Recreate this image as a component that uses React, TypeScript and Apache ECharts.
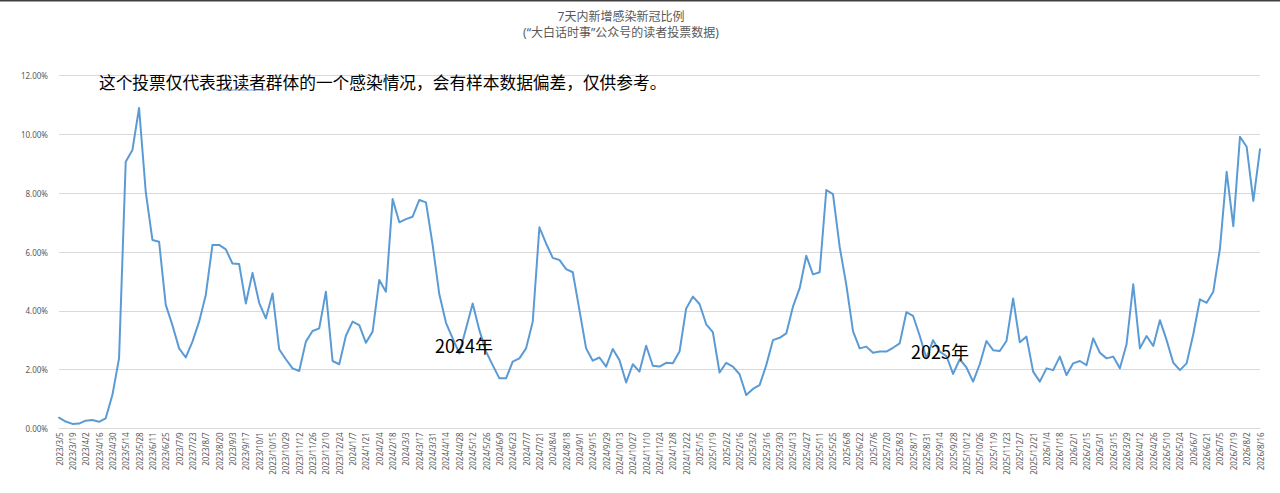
import React, { useEffect, useRef } from "react";
import * as echarts from "echarts";

// Categories (weekly survey dates)
const dates2023 = "2023/3/5 2023/3/12 2023/3/19 2023/3/26 2023/4/2 2023/4/9 2023/4/16 2023/4/23 2023/4/30 2023/5/7 2023/5/14 2023/5/21 2023/5/28 2023/6/4 2023/6/11 2023/6/18 2023/6/25 2023/7/2 2023/7/9 2023/7/16 2023/7/23 2023/7/30 2023/8/7 2023/8/13 2023/8/20 2023/8/27 2023/9/3 2023/9/10 2023/9/17 2023/9/24 2023/10/1 2023/10/8 2023/10/15 2023/10/22 2023/10/29 2023/11/5 2023/11/12 2023/11/19 2023/11/26 2023/12/3 2023/12/10 2023/12/17 2023/12/24 2023/12/31".split(" ");
const dates2024 = "2024/1/7 2024/1/14 2024/1/21 2024/1/28 2024/2/4 2024/2/11 2024/2/18 2024/2/25 2024/3/3 2024/3/10 2024/3/17 2024/3/24 2024/3/31 2024/4/7 2024/4/14 2024/4/21 2024/4/28 2024/5/5 2024/5/12 2024/5/19 2024/5/26 2024/6/2 2024/6/9 2024/6/16 2024/6/23 2024/6/30 2024/7/7 2024/7/14 2024/7/21 2024/7/28 2024/8/4 2024/8/11 2024/8/18 2024/8/25 2024/9/1 2024/9/8 2024/9/15 2024/9/22 2024/9/29 2024/10/6 2024/10/13 2024/10/20 2024/10/27 2024/11/3 2024/11/10 2024/11/17 2024/11/24 2024/12/1 2024/12/8 2024/12/15 2024/12/22 2024/12/29".split(" ");
const dates2025 = "2025/1/5 2025/1/12 2025/1/19 2025/1/26 2025/2/2 2025/2/9 2025/2/16 2025/2/23 2025/3/2 2025/3/9 2025/3/16 2025/3/23 2025/3/30 2025/4/6 2025/4/13 2025/4/20 2025/4/27 2025/5/4 2025/5/11 2025/5/18 2025/5/25 2025/6/1 2025/6/8 2025/6/15 2025/6/22 2025/6/29 2025/7/6 2025/7/13 2025/7/20 2025/7/27 2025/8/3 2025/8/10 2025/8/17 2025/8/24 2025/8/31 2025/9/7 2025/9/14 2025/9/21 2025/9/28 2025/10/5 2025/10/12 2025/10/19 2025/10/26 2025/11/2 2025/11/9 2025/11/16 2025/11/23 2025/11/30 2025/12/7 2025/12/14 2025/12/21 2025/12/28".split(" ");
const dates2026 = "2026/1/4 2026/1/11 2026/1/18 2026/1/25 2026/2/1 2026/2/8 2026/2/15 2026/2/22 2026/3/1 2026/3/8 2026/3/15 2026/3/22 2026/3/29 2026/4/5 2026/4/12 2026/4/19 2026/4/26 2026/5/3 2026/5/10 2026/5/17 2026/5/24 2026/5/31 2026/6/7 2026/6/14 2026/6/21 2026/6/28 2026/7/5 2026/7/12 2026/7/19 2026/7/26 2026/8/2 2026/8/9 2026/8/16".split(" ");

// Weekly infection share (%)
const values2023 = [
  0.36, 0.23, 0.15, 0.16, 0.26, 0.28, 0.22, 0.34, 1.13, 2.38, 9.07, 9.47, 10.9, 8.05, 6.41, 6.35,
  4.2, 3.51, 2.72, 2.41, 2.95, 3.63, 4.54, 6.24, 6.24, 6.09, 5.61, 5.59, 4.25, 5.29, 4.27, 3.74,
  4.59, 2.69, 2.35, 2.04, 1.95, 2.95, 3.31, 3.4, 4.65, 2.29, 2.18, 3.15,
];
const values2024 = [
  3.63, 3.51, 2.91, 3.29, 5.05, 4.65, 7.8, 7.01, 7.12, 7.2, 7.77, 7.69, 6.24, 4.56, 3.59, 3.06,
  2.55, 3.4, 4.25, 3.34, 2.61, 2.15, 1.7, 1.7, 2.27, 2.38, 2.72, 3.63, 6.84, 6.29, 5.8, 5.73,
  5.42, 5.31, 4.02, 2.72, 2.3, 2.41, 2.1, 2.7, 2.32, 1.56, 2.18, 1.93, 2.81, 2.13, 2.1, 2.23,
  2.21, 2.61, 4.08, 4.48,
];
const values2025 = [
  4.23, 3.54, 3.27, 1.9, 2.23, 2.1, 1.84, 1.13, 1.34, 1.47, 2.15, 3.0, 3.08, 3.23, 4.14, 4.76,
  5.87, 5.24, 5.31, 8.11, 7.97, 6.18, 4.88, 3.31, 2.72, 2.78, 2.57, 2.61, 2.61, 2.74, 2.89, 3.95,
  3.83, 3.15, 2.38, 3.0, 2.61, 2.46, 1.85, 2.35, 2.07, 1.59, 2.18, 2.97, 2.66, 2.63, 2.97, 4.42,
  2.93, 3.12, 1.93, 1.59,
];
const values2026 = [
  2.04, 1.98, 2.44, 1.81, 2.21, 2.29, 2.15, 3.06, 2.57, 2.38, 2.44, 2.04, 2.86, 4.9, 2.72, 3.14,
  2.8, 3.68, 3.0, 2.23, 1.98, 2.21, 3.2, 4.39, 4.27, 4.65, 6.12, 8.73, 6.88, 9.92, 9.58, 7.74,
  9.5,
];

const yTicks = { min: 0, max: 12, step: 2 };

const titleText = "7天内新增感染新冠比例";
const subtitleText = "(“大白话时事”公众号的读者投票数据)";
const noteText = "这个投票仅代表我读者群体的一个感染情况，会有样本数据偏差，仅供参考。";
const yearLabels = ["2024年", "2025年"];

export default function App() {
  const ref = useRef<HTMLDivElement>(null);

  useEffect(() => {
    if (!ref.current) return;
    const chart = echarts.init(ref.current, undefined, { renderer: "svg" });
    const categories = [...dates2023, ...dates2024, ...dates2025, ...dates2026];
    const values = [...values2023, ...values2024, ...values2025, ...values2026];
    const cjk = "'Noto Sans CJK SC', 'Noto Sans', sans-serif";
    const latin = "'Noto Sans', 'Noto Sans CJK SC', sans-serif";

    chart.setOption({
      animation: false,
      backgroundColor: "#ffffff",
      grid: { left: 59, right: 20, top: 75.7, bottom: 64.7, containLabel: false },
      xAxis: {
        type: "category",
        data: categories,
        boundaryGap: false,
        axisLine: { lineStyle: { color: "#d9d9d9", width: 1 } },
        axisTick: { show: false },
        splitLine: { show: false },
        axisLabel: {
          interval: 1,
          rotate: 90,
          fontSize: 8,
          color: "#595959",
          margin: 4,
          fontFamily: latin,
        },
      },
      yAxis: {
        type: "value",
        min: yTicks.min,
        max: yTicks.max,
        interval: yTicks.step,
        axisLine: { show: false },
        axisTick: { show: false },
        splitLine: { lineStyle: { color: "#d9d9d9", width: 1 } },
        axisLabel: {
          formatter: (v: number) => v.toFixed(2) + "%",
          fontSize: 8,
          color: "#595959",
          margin: 11,
          fontFamily: latin,
        },
      },
      series: [
        {
          type: "line",
          data: values,
          showSymbol: false,
          symbol: "none",
          lineStyle: { color: "#5B9BD5", width: 2, cap: "round", join: "round" },
          itemStyle: { color: "#5B9BD5" },
        },
      ],
      graphic: [
        { type: "rect", shape: { x: 0, y: 0, width: 1280, height: 1.5 }, style: { fill: "#404040" } },
        {
          type: "text",
          x: 621,
          y: 16,
          style: {
            text: titleText,
            fill: "#595959",
            font: `12px ${latin}`,
            textAlign: "center",
            textVerticalAlign: "middle",
            align: "center",
            verticalAlign: "middle",
          },
        },
        {
          type: "text",
          x: 621,
          y: 32,
          style: {
            text: subtitleText,
            fill: "#595959",
            font: `12px ${latin}`,
            textAlign: "center",
            textVerticalAlign: "middle",
            align: "center",
            verticalAlign: "middle",
          },
        },
        {
          type: "text",
          x: 99,
          y: 82,
          z: 100,
          style: {
            text: noteText,
            fill: "#000000",
            font: `16.7px ${cjk}`,
            textAlign: "left",
            textVerticalAlign: "middle",
            align: "left",
            verticalAlign: "middle",
          },
        },
        {
          type: "line",
          shape: { x1: 216, y1: 90, x2: 266, y2: 90 },
          style: { stroke: "#7f9ad6", lineWidth: 1.2 },
          z: 100,
        },
        {
          type: "text",
          x: 435,
          y: 345,
          z: 100,
          style: {
            text: yearLabels[0],
            fill: "#000000",
            font: `18px ${cjk}`,
            textAlign: "left",
            textVerticalAlign: "middle",
            align: "left",
            verticalAlign: "middle",
          },
        },
        {
          type: "text",
          x: 911,
          y: 351,
          z: 100,
          style: {
            text: yearLabels[1],
            fill: "#000000",
            font: `18px ${cjk}`,
            textAlign: "left",
            textVerticalAlign: "middle",
            align: "left",
            verticalAlign: "middle",
          },
        },
      ],
    });

    return () => chart.dispose();
  }, []);

  return (
    <div
      ref={ref}
      style={{ position: "absolute", left: 0, top: 0, width: 1280, height: 493, background: "#fff" }}
    />
  );
}
